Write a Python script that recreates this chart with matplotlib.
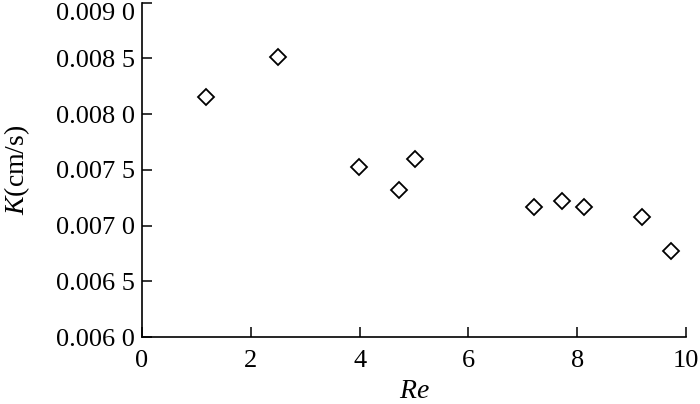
import matplotlib.pyplot as plt
from matplotlib.ticker import FuncFormatter

# Data
re_values = [1.17, 2.50, 3.99, 4.72, 5.02, 7.20, 7.73, 8.12, 9.19, 9.72]
k_values = [0.008152, 0.008511, 0.007527, 0.007318, 0.007596,
            0.007163, 0.007222, 0.007163, 0.007074, 0.006774]
x_ticks = [0, 2, 4, 6, 8, 10]
y_ticks = [0.0060, 0.0065, 0.0070, 0.0075, 0.0080, 0.0085, 0.0090]

plt.rcParams["font.family"] = ["Liberation Serif", "DejaVu Serif"]
plt.rcParams["mathtext.fontset"] = "custom"
plt.rcParams["mathtext.it"] = "Liberation Serif:italic"
plt.rcParams["mathtext.rm"] = "Liberation Serif"

fig = plt.figure(figsize=(7, 4.04), dpi=100)
ax = fig.add_axes([0.2029, 0.1658, 0.777, 0.828])

ax.plot(re_values, k_values, linestyle="none", marker="D", markersize=8.5,
        markerfacecolor="white", markeredgecolor="black", markeredgewidth=1.3)

ax.set_xlim(0, 10)
ax.set_ylim(0.006, 0.009)
ax.set_xticks(x_ticks)
ax.set_yticks(y_ticks)


def fmt_y(value, pos):
    s = f"{value:.4f}"
    return s[:-1] + " " + s[-1]


ax.yaxis.set_major_formatter(FuncFormatter(fmt_y))
ax.tick_params(direction="in", length=7, width=1.1, labelsize=19)
ax.tick_params(axis="y", pad=5)
ax.tick_params(axis="x", pad=9)

# top label sits just under the figure edge, as in the reference
ax.yaxis.get_major_ticks()[-1].label1.set_verticalalignment("top")

for side in ("top", "right"):
    ax.spines[side].set_visible(False)
for side in ("left", "bottom"):
    ax.spines[side].set_linewidth(1.2)

ax.set_xlabel("$Re$", fontsize=20)
ax.set_ylabel("$K$(cm/s)", fontsize=20)
ax.xaxis.set_label_coords(0.5, -0.125)
ax.yaxis.set_label_coords(-0.203, 0.5)

fig.savefig("out.png", dpi=100)
